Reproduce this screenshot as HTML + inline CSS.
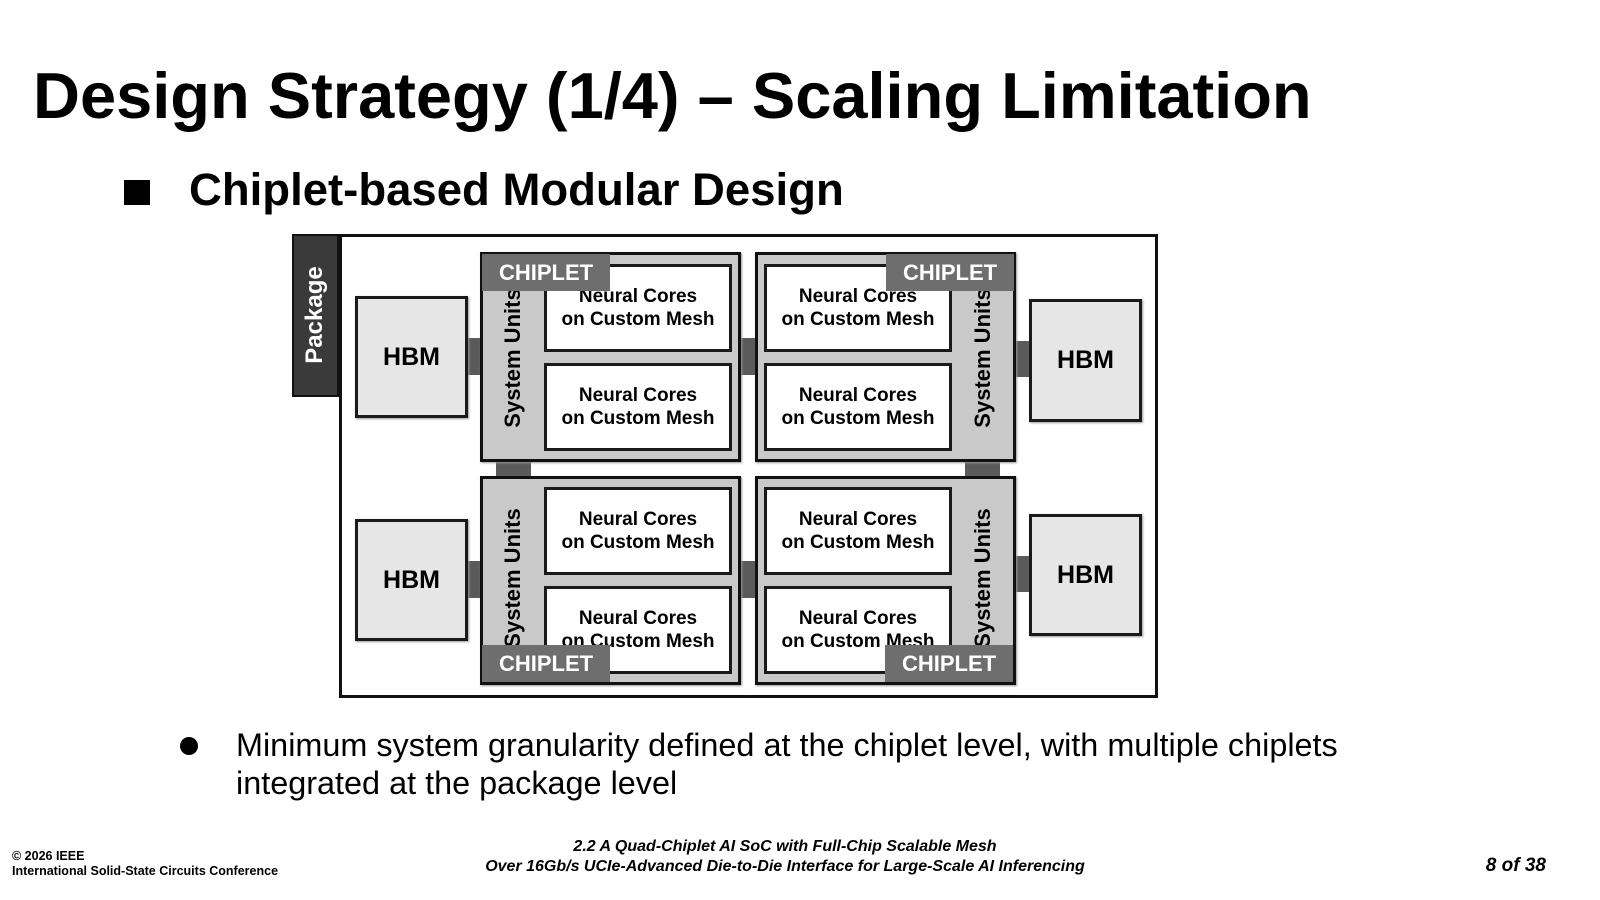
<!DOCTYPE html>
<html><head><meta charset="utf-8"><style>
*{margin:0;padding:0;box-sizing:border-box}
body{width:1600px;height:900px;background:#fff;position:relative;overflow:hidden;font-family:"Liberation Sans",Arial,sans-serif;color:#000}
.a{position:absolute}
.hbm{position:absolute;background:#e6e6e6;border:3px solid #1a1a1a;display:flex;align-items:center;justify-content:center;font-weight:bold;font-size:25px;box-shadow:1px 1px 2px #999}
.chip{position:absolute;background:#c9c9c9;border:3px solid #111;box-shadow:1px 1px 2px #999}
.nc{position:absolute;background:#fff;border:3px solid #1a1a1a;display:flex;align-items:center;justify-content:center;text-align:center;font-weight:bold;font-size:19px;line-height:23px;width:188px;height:88px}
.lab{position:absolute;background:#6e6e6e;color:#fff;font-weight:bold;font-size:22px;width:128px;height:37px;line-height:37px;text-align:center}
.su{position:absolute;width:150px;height:30px;line-height:30px;text-align:center;font-weight:bold;font-size:22px;transform:rotate(-90deg);white-space:nowrap}
.bar{position:absolute;background:#5a5a5a}
</style></head><body>
<div class="a" style="left:33px;top:58px;font-size:65px;font-weight:bold;white-space:nowrap">Design Strategy (1/4) – Scaling Limitation</div>
<div class="a" style="left:124px;top:180px;width:26px;height:25px;background:#000"></div>
<div class="a" style="left:189px;top:164px;font-size:45.5px;font-weight:bold;white-space:nowrap">Chiplet-based Modular Design</div>

<div class="a" style="left:339px;top:234px;width:819px;height:464px;border:3px solid #111"></div>
<div class="a" style="left:292px;top:234px;width:47px;height:163px;background:#3a3a3a;border:2px solid #111"></div>
<div class="a" style="left:240px;top:300px;width:150px;height:30px;line-height:30px;text-align:center;color:#fff;font-weight:bold;font-size:24px;transform:rotate(-90deg)">Package</div>

<div class="bar" style="left:466px;top:338px;width:16px;height:37px"></div>
<div class="bar" style="left:466px;top:561px;width:16px;height:37px"></div>
<div class="bar" style="left:739px;top:338px;width:17px;height:37px"></div>
<div class="bar" style="left:739px;top:561px;width:17px;height:37px"></div>
<div class="bar" style="left:1014px;top:341px;width:16px;height:36px"></div>
<div class="bar" style="left:1014px;top:556px;width:16px;height:36px"></div>
<div class="bar" style="left:496px;top:460px;width:35px;height:17px"></div>
<div class="bar" style="left:965px;top:460px;width:35px;height:17px"></div>

<div class="hbm" style="left:355px;top:296px;width:113px;height:122px">HBM</div>
<div class="hbm" style="left:355px;top:519px;width:113px;height:122px">HBM</div>
<div class="hbm" style="left:1029px;top:299px;width:113px;height:123px">HBM</div>
<div class="hbm" style="left:1029px;top:514px;width:113px;height:122px">HBM</div>

<div class="chip" style="left:480px;top:252px;width:261px;height:210px"></div>
<div class="su" style="left:438px;top:343px">System Units</div>
<div class="nc" style="left:544px;top:264px">Neural Cores<br>on Custom Mesh</div>
<div class="nc" style="left:544px;top:363px">Neural Cores<br>on Custom Mesh</div>
<div class="lab" style="left:482px;top:254px">CHIPLET</div>

<div class="chip" style="left:755px;top:252px;width:261px;height:210px"></div>
<div class="su" style="left:908px;top:343px">System Units</div>
<div class="nc" style="left:764px;top:264px">Neural Cores<br>on Custom Mesh</div>
<div class="nc" style="left:764px;top:363px">Neural Cores<br>on Custom Mesh</div>
<div class="lab" style="left:886px;top:254px">CHIPLET</div>

<div class="chip" style="left:480px;top:476px;width:261px;height:209px"></div>
<div class="su" style="left:438px;top:563px">System Units</div>
<div class="nc" style="left:544px;top:487px">Neural Cores<br>on Custom Mesh</div>
<div class="nc" style="left:544px;top:586px">Neural Cores<br>on Custom Mesh</div>
<div class="lab" style="left:482px;top:645px">CHIPLET</div>

<div class="chip" style="left:755px;top:476px;width:261px;height:209px"></div>
<div class="su" style="left:908px;top:563px">System Units</div>
<div class="nc" style="left:764px;top:487px">Neural Cores<br>on Custom Mesh</div>
<div class="nc" style="left:764px;top:586px">Neural Cores<br>on Custom Mesh</div>
<div class="lab" style="left:885px;top:645px">CHIPLET</div>

<div class="a" style="left:180px;top:737px;width:18px;height:18px;border-radius:50%;background:#000"></div>
<div class="a" style="left:236px;top:726px;font-size:32.4px;line-height:38px;width:1300px;white-space:nowrap">Minimum system granularity defined at the chiplet level, with multiple chiplets<br>integrated at the package level</div>

<div class="a" style="left:12px;top:849px;font-size:12.5px;font-weight:bold;line-height:15px">© 2026 IEEE<br>International Solid-State Circuits Conference</div>
<div class="a" style="left:385px;top:837px;width:800px;text-align:center;font-size:16px;font-weight:bold;font-style:italic;line-height:20px;white-space:nowrap">2.2 A Quad-Chiplet AI SoC with Full-Chip Scalable Mesh<br>Over 16Gb/s UCIe-Advanced Die-to-Die Interface for Large-Scale AI Inferencing</div>
<div class="a" style="left:1446px;top:855px;width:100px;text-align:right;font-size:19px;font-weight:bold;font-style:italic">8 of 38</div>
</body></html>
